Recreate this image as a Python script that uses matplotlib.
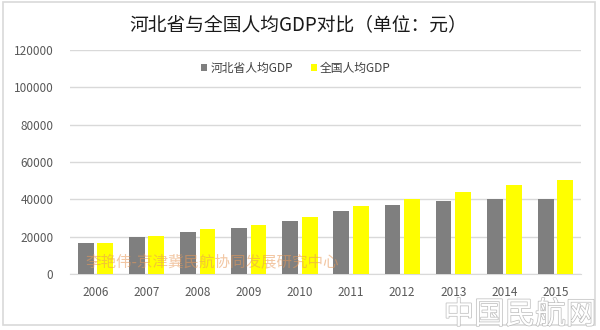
import matplotlib.pyplot as plt
import matplotlib.patheffects as pe
from matplotlib.patches import Rectangle
import numpy as np

plt.rcParams["font.family"] = ["Noto Sans CJK SC", "DejaVu Sans"]

years = ["2006", "2007", "2008", "2009", "2010", "2011", "2012", "2013", "2014", "2015"]
hebei = [16400, 19800, 22700, 24600, 28400, 34000, 36700, 38900, 40000, 40300]
china = [16400, 20500, 24200, 26300, 30800, 36400, 40200, 44000, 47500, 50300]
series_names = ["河北省人均GDP", "全国人均GDP"]
yticks = [0, 20000, 40000, 60000, 80000, 100000, 120000]

fig = plt.figure(figsize=(6.0, 3.3), dpi=100)
ax = fig.add_axes([70 / 600, 1 - 274 / 330, 511 / 600, 224 / 330])

# chart border
fig.patches.append(Rectangle((3 / 600, 5 / 330), 592 / 600, 323 / 330, transform=fig.transFigure,
                             fill=False, edgecolor="#D9D9D9", linewidth=1.2))

x = np.arange(len(years))
w = 0.31
ax.bar(x - 0.19, hebei, w, color="#7F7F7F", label=series_names[0], zorder=3)
ax.bar(x + 0.19, china, w, color="#FFFF00", label=series_names[1], zorder=3)

ax.set_xlim(-0.5, len(years) - 0.5)
ax.set_ylim(0, 120000)
ax.set_yticks(yticks)
ax.set_yticklabels([str(v) for v in yticks])
ax.set_xticks(x)
ax.set_xticklabels(years)
ax.tick_params(length=0, labelsize=8.5, colors="#595959")
ax.tick_params(axis="x", pad=9)
ax.tick_params(axis="y", pad=12)
ax.grid(axis="y", color="#D9D9D9", linewidth=1.0, zorder=0)
for s in ["top", "right", "left"]:
    ax.spines[s].set_visible(False)
ax.spines["bottom"].set_color("#D9D9D9")
ax.set_axisbelow(True)

leg = ax.legend(loc="center", bbox_to_anchor=(296 / 600, 1 - 68 / 330), bbox_transform=fig.transFigure,
                ncol=2, frameon=False, fontsize=8.5, handlelength=0.5, handleheight=0.5,
                handletextpad=0.3, columnspacing=1.5)
for t in leg.get_texts():
    t.set_color("#404040")

fig.text(298 / 600, 1 - 25 / 330, "河北省与全国人均GDP对比（单位：元）", ha="center", va="center",
         fontsize=13.5, color="#1A1A1A")

# watermarks
fig.text(85 / 600, 1 - 263 / 330, "李艳伟-京津冀民航协同发展研究中心", ha="left", va="center",
         fontsize=11.2, color="#E89A5A", alpha=0.55)
fig.text(596 / 600, 1 - 315 / 330, "中国民航网", ha="right", va="center", fontsize=22,
         color="white", path_effects=[pe.withStroke(linewidth=1.0, foreground="#BBBBBB")])

fig.savefig("out.png", dpi=100)
